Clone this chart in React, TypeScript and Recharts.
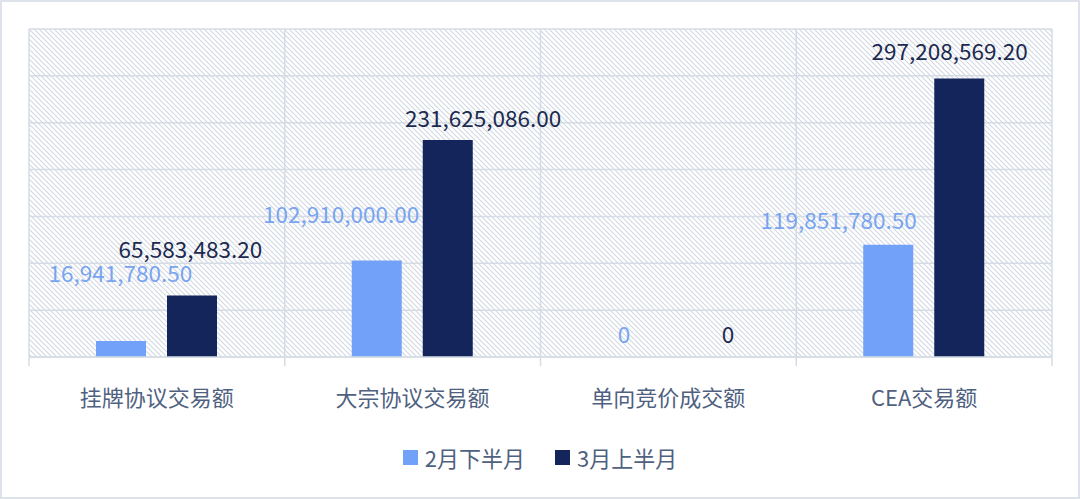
import React from 'react';
import { ComposedChart, Bar, Line, XAxis, YAxis, CartesianGrid, Legend, LabelList } from 'recharts';

const categories = ['挂牌协议交易额', '大宗协议交易额', '单向竞价成交额', 'CEA交易额'];
const febSecondHalf = [16941780.5, 102910000.0, 0, 119851780.5];
const marFirstHalf = [65583483.2, 231625086.0, 0, 297208569.2];
const seriesNames = ['2月下半月', '3月上半月'];
const yTicks = [0, 50000000, 100000000, 150000000, 200000000, 250000000, 300000000, 350000000];

// manual label nudges (relative to each bar's top-centre), as placed in the original
const febLabelShift = [
  [-1, -69],
  [-36, -48],
  [-9, -24],
  [-50, -26],
];
const marLabelShift = [
  [-2, -48],
  [35, -23],
  [24, -24],
  [-10, -28],
];

const data = categories.map((name, i) => ({
  name,
  feb: febSecondHalf[i],
  mar: marFirstHalf[i],
}));

const BAR_SIZE = 50;
const BAR_GAP = 21;
const HALF_STEP = (BAR_SIZE + BAR_GAP) / 2;

const FONT = '"Noto Sans CJK SC", "Noto Sans", sans-serif';
const LIGHT = '#72a1fa';
const DARK = '#13255a';
const LIGHT_TEXT = '#78a4f0';
const DARK_TEXT = '#1c2a50';
const AXIS_TEXT = '#4f6180';
const GRID = '#d6dce5';

const fmt = (v: number) =>
  v === 0 ? '0' : v.toLocaleString('en-US', { minimumFractionDigits: 2, maximumFractionDigits: 2 });

const makeLabel = (shifts: number[][], color: string, side: number) => (props: any) => {
  const { x, y, value, index } = props;
  const s = shifts[index] || [0, -20];
  return (
    <text
      x={Number(x) + side * HALF_STEP + s[0]}
      y={Number(y) + s[1]}
      textAnchor="middle"
      dominantBaseline="central"
      fill={color}
      fontSize={22.5}
      fontFamily={FONT}
    >
      {fmt(Number(value))}
    </text>
  );
};

const CatTick = (props: any) => {
  const { x, y, payload, index, visibleTicksCount } = props;
  const half = Number(payload?.offset) || 0;
  const cx = Number(x);
  const cy = Number(y);
  const last = index === (visibleTicksCount ?? categories.length) - 1;
  return (
    <g>
      <line x1={cx - half} x2={cx - half} y1={cy} y2={cy + 9} stroke={GRID} strokeWidth={1.5} />
      {last && <line x1={cx + half} x2={cx + half} y1={cy} y2={cy + 9} stroke={GRID} strokeWidth={1.5} />}
      <text
        x={cx}
        y={cy + 39}
        textAnchor="middle"
        dominantBaseline="central"
        fill={AXIS_TEXT}
        fontSize={22}
        fontFamily={FONT}
      >
        {payload.value}
      </text>
    </g>
  );
};

const LegendContent = () => {
  const colors = [LIGHT, DARK];
  return (
    <div
      style={{
        display: 'flex',
        justifyContent: 'center',
        alignItems: 'center',
        height: 30,
        fontFamily: FONT,
        fontSize: 22,
        color: AXIS_TEXT,
      }}
    >
      {seriesNames.map((n, i) => (
        <div key={n} style={{ display: 'flex', alignItems: 'center', marginLeft: i === 0 ? 0 : 30 }}>
          <span style={{ display: 'inline-block', width: 15, height: 15, background: colors[i], marginRight: 7 }} />
          <span style={{ lineHeight: '30px' }}>{n}</span>
        </div>
      ))}
    </div>
  );
};

const verticalBoundaries = ({ offset }: any) =>
  [0, 1, 2, 3, 4].map((i) => offset.left + (i * offset.width) / categories.length);

export default function App() {
  return (
    <div
      style={{
        position: 'absolute',
        left: 0,
        top: 0,
        width: 1080,
        height: 499,
        boxSizing: 'border-box',
        border: '2px solid #dde2eb',
        background: '#ffffff',
        fontFamily: FONT,
      }}
    >
      <svg width={0} height={0} style={{ position: 'absolute' }}>
        <defs>
          <pattern id="hatch" width={5} height={5} patternUnits="userSpaceOnUse">
            <path d="M0,0 L5,5 M-1,4 L1,6 M4,-1 L6,1" stroke="#d3d9e2" strokeWidth={1.2} />
          </pattern>
        </defs>
      </svg>
      <ComposedChart
        width={1076}
        height={495}
        data={data}
        margin={{ top: 27, right: 26, left: 27, bottom: 139 }}
        barSize={BAR_SIZE}
        barGap={BAR_GAP}
      >
        <CartesianGrid
          stroke={GRID}
          strokeWidth={1.5}
          fill="url(#hatch)"
          fillOpacity={1}
          verticalCoordinatesGenerator={verticalBoundaries}
        />
        <XAxis
          dataKey="name"
          tick={<CatTick />}
          tickLine={false}
          axisLine={{ stroke: GRID, strokeWidth: 1.5 }}
          tickSize={0}
          tickMargin={0}
          height={1}
          interval={0}
        />
        <YAxis hide width={0} domain={[0, 350000000]} ticks={yTicks} />
        <Legend
          layout="horizontal"
          verticalAlign="middle"
          align="center"
          content={<LegendContent />}
          wrapperStyle={{ top: 440, left: 0, width: 1076 }}
        />
        <Bar dataKey="feb" name={seriesNames[0]} fill={LIGHT} isAnimationActive={false} />
        <Bar dataKey="mar" name={seriesNames[1]} fill={DARK} isAnimationActive={false} />
        <Line
          dataKey="feb"
          stroke="none"
          dot={false}
          activeDot={false}
          legendType="none"
          isAnimationActive={false}
        >
          <LabelList dataKey="feb" content={makeLabel(febLabelShift, LIGHT_TEXT, -1)} />
        </Line>
        <Line
          dataKey="mar"
          stroke="none"
          dot={false}
          activeDot={false}
          legendType="none"
          isAnimationActive={false}
        >
          <LabelList dataKey="mar" content={makeLabel(marLabelShift, DARK_TEXT, 1)} />
        </Line>
      </ComposedChart>
    </div>
  );
}
